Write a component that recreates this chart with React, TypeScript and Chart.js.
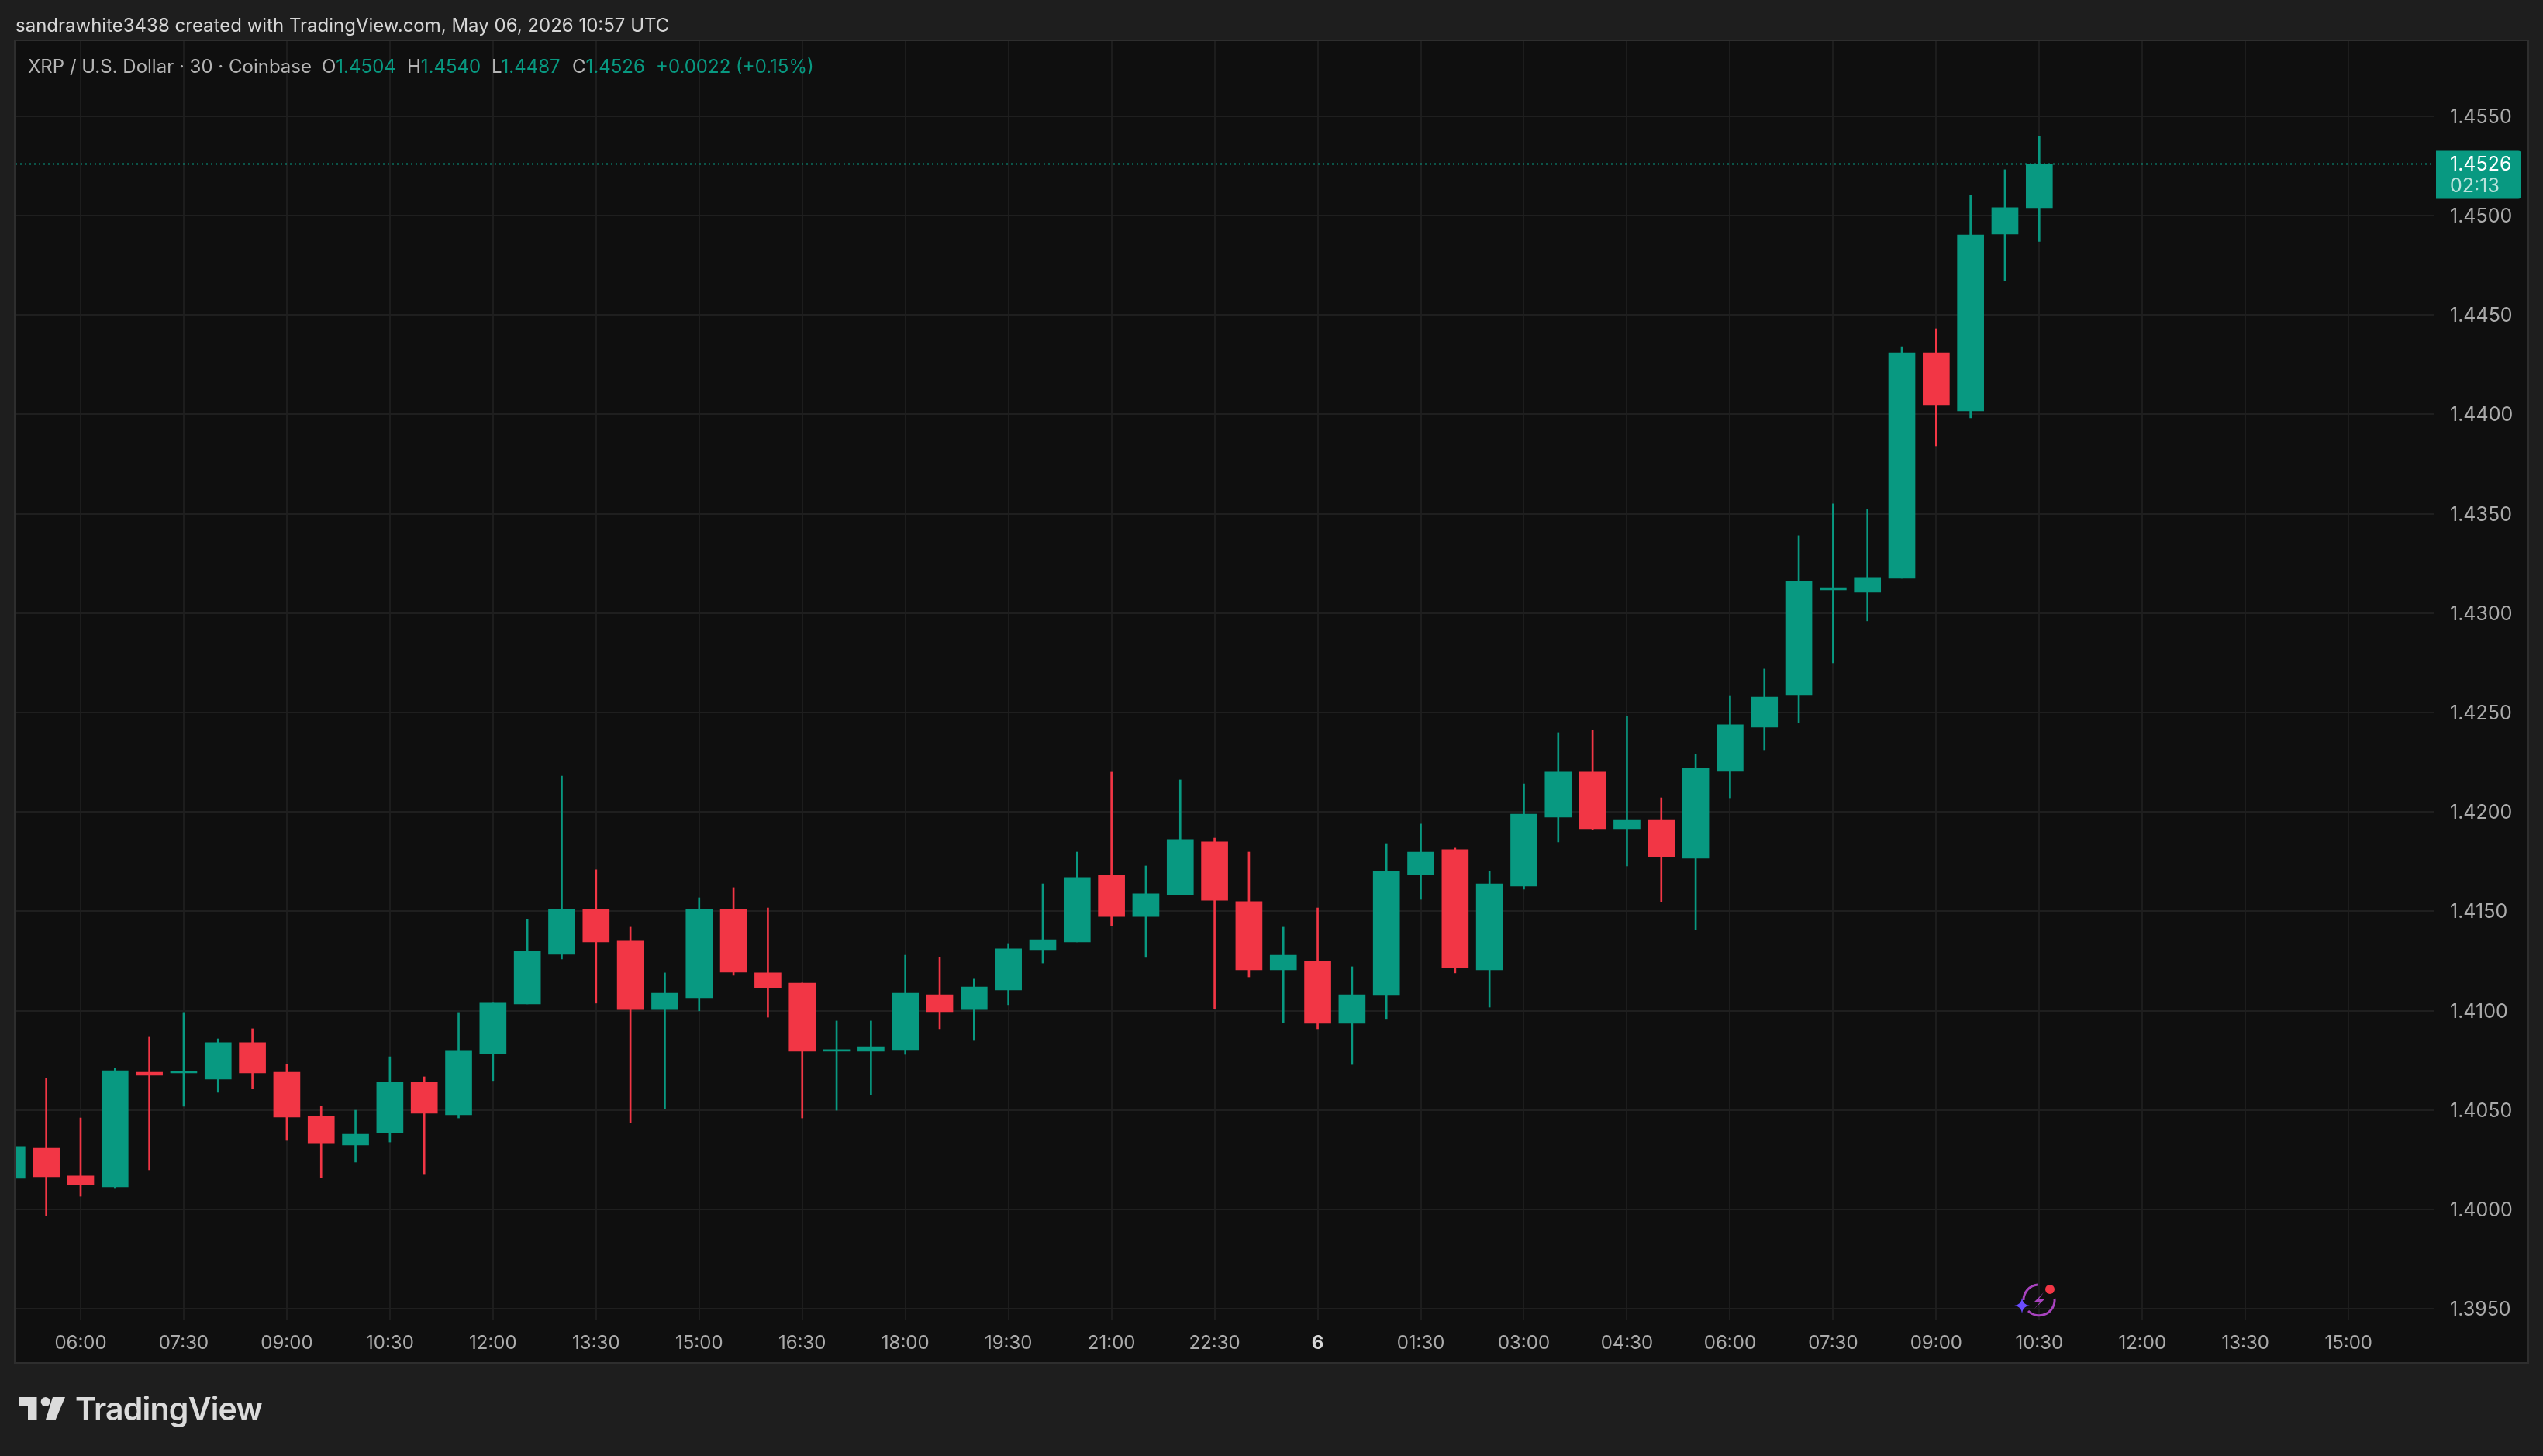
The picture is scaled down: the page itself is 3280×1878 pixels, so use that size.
import React, { useEffect, useRef } from "react";
import { Chart, registerables } from "chart.js";

Chart.register(...registerables);

const firstBarIndex = -2;
const opens = [1.40156,1.40308,1.40168,1.40113,1.40690,1.40687,1.40655,1.40839,1.40690,1.40468,1.40324,1.40386,1.40640,1.40476,1.40784,1.41034,1.41283,1.41510,1.41350,1.41006,1.41065,1.41510,1.41190,1.41139,1.40796,1.40796,1.40804,1.41080,1.41006,1.41104,1.41307,1.41346,1.41681,1.41474,1.41584,1.41849,1.41549,1.41205,1.41248,1.40936,1.41077,1.41685,1.41810,1.41205,1.41627,1.41974,1.42200,1.41915,1.41958,1.41767,1.42204,1.42426,1.42586,1.43117,1.43105,1.43175,1.44310,1.44018,1.44907,1.4504];
const highs = [1.40316,1.40659,1.40460,1.40710,1.40870,1.40991,1.40858,1.40909,1.40729,1.40519,1.40499,1.40768,1.40667,1.40991,1.41038,1.41459,1.42180,1.41709,1.41420,1.41190,1.41568,1.41619,1.41517,1.41139,1.40948,1.40948,1.41279,1.41268,1.41159,1.41338,1.41638,1.41798,1.42200,1.41728,1.42161,1.41868,1.41798,1.41420,1.41517,1.41221,1.41841,1.41939,1.41818,1.41701,1.42141,1.42399,1.42411,1.42481,1.42071,1.42290,1.42582,1.42719,1.43390,1.43550,1.43522,1.44341,1.44431,1.45102,1.45231,1.4540];
const lows = [1.40156,1.39969,1.40066,1.40109,1.40199,1.40519,1.40589,1.40609,1.40347,1.40160,1.40238,1.40339,1.40179,1.40460,1.40648,1.41034,1.41260,1.41038,1.40437,1.40507,1.40999,1.41178,1.40967,1.40460,1.40499,1.40577,1.40780,1.40909,1.40850,1.41030,1.41240,1.41346,1.41428,1.41268,1.41584,1.41010,1.41170,1.40940,1.40909,1.40729,1.40960,1.41560,1.41190,1.41018,1.41611,1.41849,1.41911,1.41728,1.41549,1.41408,1.42071,1.42309,1.42450,1.42750,1.42961,1.43175,1.43842,1.43983,1.44673,1.4487];
const closes = [1.40316,1.40164,1.40125,1.40698,1.40675,1.40694,1.40839,1.40687,1.40464,1.40335,1.40378,1.40640,1.40484,1.40800,1.41038,1.41299,1.41510,1.41346,1.41006,1.41088,1.41510,1.41194,1.41116,1.40796,1.40804,1.40819,1.41088,1.40995,1.41119,1.41311,1.41357,1.41670,1.41474,1.41588,1.41861,1.41556,1.41205,1.41279,1.40936,1.41080,1.41701,1.41798,1.41217,1.41638,1.41989,1.42200,1.41915,1.41958,1.41775,1.42220,1.42438,1.42578,1.43160,1.43128,1.43179,1.44310,1.44045,1.44903,1.45040,1.4526];

const xTickStep = 3;
const xTickLabels = ["06:00","07:30","09:00","10:30","12:00","13:30","15:00","16:30","18:00","19:30","21:00","22:30","6","01:30","03:00","04:30","06:00","07:30","09:00","10:30","12:00","13:30","15:00"];
const yTicks = [1.395,1.4,1.405,1.41,1.415,1.42,1.425,1.43,1.435,1.44,1.445,1.45,1.455];
const xRange = [-1.895, 68.5];
const yRange = [1.39446, 1.45878];

const UP = "#089981";
const DOWN = "#F23645";
const FONT = "Inter, 'Noto Sans', sans-serif";

export default function App() {
  const ref = useRef<HTMLCanvasElement>(null);

  useEffect(() => {
    document.body.style.margin = "0";
    document.body.style.background = "#1E1E1E";
    const n = closes.length;
    const idx = closes.map((_, i) => firstBarIndex + i);
    const colors = closes.map((c, i) => (c >= opens[i] ? UP : DOWN));
    const last = closes[n - 1];

    const panel = {
      id: "panel",
      beforeDraw(c: any) {
        const g = c.ctx;
        g.save();
        g.fillStyle = "#1E1E1E";
        g.fillRect(0, 0, 3280, 1878);
        g.fillStyle = "#0F0F0F";
        g.fillRect(20, 53, 3240, 1704);
        g.strokeStyle = "#2E2E2E";
        g.lineWidth = 2;
        g.strokeRect(19, 52, 3242, 1706);
        g.restore();
      },
    };
    const priceTag = {
      id: "priceTag",
      afterDraw(c: any) {
        const g = c.ctx;
        const py = c.scales.y.getPixelForValue(last);
        g.save();
        g.fillStyle = UP;
        g.beginPath();
        g.roundRect(3142, py - 17, 110, 62, [0, 4, 4, 0]);
        g.fill();
        g.textBaseline = "middle";
        g.textAlign = "left";
        g.font = `25px ${FONT}`;
        g.fillStyle = "#FFFFFF";
        g.fillText(last.toFixed(4), 3160, py + 1);
        g.fillStyle = "rgba(255,255,255,0.72)";
        g.fillText("02:13", 3160, py + 29);
        g.restore();
      },
    };

    const chart = new Chart(ref.current as HTMLCanvasElement, {
      type: "bar",
      data: {
        datasets: [
          {
            type: "line",
            label: "last",
            data: [{ x: xRange[0], y: last }, { x: xRange[1], y: last }],
            borderColor: UP,
            borderWidth: 2,
            borderDash: [2, 4],
            pointRadius: 0,
            order: 0,
          },
          {
            label: "body",
            data: idx.map((x, i) => ({ x, y: [opens[i], closes[i]] })),
            backgroundColor: colors,
            grouped: false,
            barPercentage: 1,
            categoryPercentage: 1,
            maxBarThickness: 34,
            borderWidth: 0,
            order: 1,
          },
          {
            label: "wick",
            data: idx.map((x, i) => ({ x, y: [lows[i], highs[i]] })),
            backgroundColor: colors,
            grouped: false,
            barPercentage: 1,
            categoryPercentage: 1,
            maxBarThickness: 2,
            borderWidth: 0,
            order: 2,
          },
        ] as any,
      },
      options: {
        animation: false,
        responsive: false,
        devicePixelRatio: 1,
        layout: { padding: { left: 20, top: 53, right: 0, bottom: 0 } },
        plugins: { legend: { display: false }, tooltip: { enabled: false }, title: { display: false } },
        scales: {
          x: {
            type: "linear",
            offset: false,
            min: xRange[0],
            max: xRange[1],
            afterBuildTicks(s: any) {
              s.ticks = xTickLabels.map((_, k) => ({ value: k * xTickStep }));
            },
            afterFit(s: any) {
              s.height = 176;
            },
            border: { display: false },
            grid: { offset: false, color: "#1D1D1D", lineWidth: 2, drawTicks: false },
            ticks: {
              autoSkip: false,
              maxRotation: 0,
              padding: 16,
              color: (ctx: any) => (ctx.index === 12 ? "#D8D8D8" : "#ABABAB"),
              font: (ctx: any) => ({ family: FONT, size: 24, weight: ctx.index === 12 ? "bold" : "normal" }),
              callback: (_: any, i: number) => xTickLabels[i],
            },
          },
          y: {
            position: "right",
            min: yRange[0],
            max: yRange[1],
            afterBuildTicks(s: any) {
              s.ticks = yTicks.map((value) => ({ value }));
            },
            afterFit(s: any) {
              s.width = 140;
            },
            border: { display: false },
            grid: { color: "#1F1F1F", lineWidth: 2, drawTicks: false },
            ticks: {
              autoSkip: false,
              padding: 20,
              labelOffset: 1.5,
              color: "#ABABAB",
              font: { family: FONT, size: 25 },
              callback: (v: any) => Number(v).toFixed(4),
            },
          },
        },
      } as any,
      plugins: [panel, priceTag],
    });
    return () => chart.destroy();
  }, []);

  const last = closes.length - 1;
  const o = opens[last].toFixed(4);
  const h = highs[last].toFixed(4);
  const l = lows[last].toFixed(4);
  const c = closes[last].toFixed(4);
  const abs: React.CSSProperties = { position: "absolute", whiteSpace: "nowrap", fontFamily: FONT };
  const gray = "#B4B4B4";
  const legend = { ...abs, top: 71, fontSize: 24, lineHeight: "30px", color: gray };

  return (
    <div style={{ position: "fixed", left: 0, top: 0, width: 3280, height: 1878, overflow: "hidden", background: "#1E1E1E" }}>
      <canvas ref={ref} width={3280} height={1878} style={{ display: "block", width: 3280, height: 1878 }} />
      <div style={{ ...abs, left: 20, top: 18, fontSize: 24, lineHeight: "30px", color: "#D6D6D6" }}>
        sandrawhite3438 created with TradingView.com, May 06, 2026 10:57 UTC
      </div>
      <div style={{ ...legend, left: 36 }}>XRP / U.S. Dollar · 30 · Coinbase</div>
      <div style={{ ...legend, left: 415 }}>O<span style={{ color: UP }}>{o}</span></div>
      <div style={{ ...legend, left: 525 }}>H<span style={{ color: UP }}>{h}</span></div>
      <div style={{ ...legend, left: 634 }}>L<span style={{ color: UP }}>{l}</span></div>
      <div style={{ ...legend, left: 738 }}>C<span style={{ color: UP }}>{c}</span></div>
      <div style={{ ...legend, left: 846, color: UP }}>+0.0022 (+0.15%)</div>
      <svg width={3280} height={1878} style={{ position: "absolute", left: 0, top: 0, pointerEvents: "none" }}>
        <path d="M24 1802H47.5V1832H36V1813H24Z" fill="#DBDBDB" />
        <circle cx={58.7} cy={1808} r={6} fill="#DBDBDB" />
        <path d="M68 1802H84L71.4 1832H58.7Z" fill="#DBDBDB" />
        <path d="M2628 1657A20 20 0 0 0 2610 1677" fill="none" stroke="#A843BE" strokeWidth={3} />
        <path d="M2616 1691A20 20 0 0 0 2650 1675" fill="none" stroke="#A843BE" strokeWidth={3} />
        <path d="M2636 1667L2623 1680H2631L2624 1688L2638 1675H2630Z" fill="#A843BE" />
        <path d="M2608 1674Q2609 1683 2618 1684Q2609 1685 2608 1694Q2607 1685 2598 1684Q2607 1683 2608 1674Z" fill="#6A4DFF" />
        <circle cx={2644} cy={1663} r={6} fill="#F23645" />
      </svg>
      <div style={{ ...abs, left: 97, top: 1792, fontSize: 41, lineHeight: "50px", fontWeight: 600, letterSpacing: -0.8, color: "#DBDBDB" }}>TradingView</div>
    </div>
  );
}
